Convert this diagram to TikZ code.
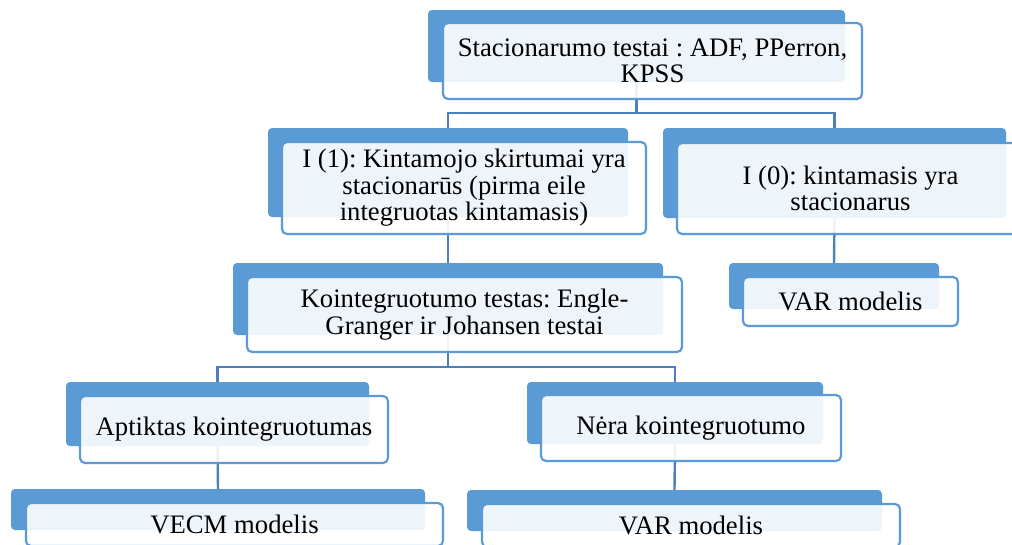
\documentclass[tikz,border=0pt]{standalone}
\usepackage{fontspec}
\setmainfont{Liberation Serif}
\frenchspacing
\definecolor{blu}{HTML}{5B9BD5}
\definecolor{conn}{HTML}{4C80BA}
\begin{document}
\begin{tikzpicture}[x=1pt,y=-1pt,
  backr/.style={fill=blu, draw=none, rounded corners=4pt, inner sep=0pt},
  frontr/.style={draw=blu, line width=2.2pt, fill=white, fill opacity=0.9, text opacity=1,
     rounded corners=5pt, inner sep=0pt, align=center,
     font=\fontsize{26.7}{26.5}\selectfont\frenchspacing},
  link/.style={draw=conn, line width=2.4pt}]
\clip (0,0) rectangle (1012,544);
\fill[white] (0,0) rectangle (1012,544);
% back rectangles
\node[backr, minimum width=417pt, minimum height=72pt] (topb) at (636.5,46) {};
\node[backr, minimum width=360pt, minimum height=89pt] (i1b) at (448,172.5) {};
\node[backr, minimum width=343pt, minimum height=90pt] (i0b) at (834.5,173) {};
\node[backr, minimum width=430pt, minimum height=72pt] (koib) at (448,299) {};
\node[backr, minimum width=210pt, minimum height=46pt] (varrb) at (834,286) {};
\node[backr, minimum width=303pt, minimum height=64pt] (aptb) at (217.5,414) {};
\node[backr, minimum width=296pt, minimum height=62pt] (nerab) at (675,413) {};
\node[backr, minimum width=414pt, minimum height=41pt] (vecmb) at (218,509.5) {};
\node[backr, minimum width=415pt, minimum height=41pt] (varbb) at (674.5,510.5) {};
% connectors
\coordinate (j1) at (636.5,113);
\coordinate (j2) at (448,367);
\draw[link] (topb.south) -- (j1) -| (i1b.north);
\draw[link] (j1) -| (i0b.north);
\draw[link] (i1b.south) -- (koib.north);
\draw[link] (i0b.south) -- (varrb.north);
\draw[link] (koib.south) -- (j2) -| (aptb.north);
\draw[link] (j2) -| (nerab.north);
\draw[link] (aptb.south) -- (vecmb.north);
\draw[link] (nerab.south) -- (varbb.north);
% front boxes
\node[frontr, minimum width=419pt, minimum height=76pt] (topf) at (652.5,61)
  {Stacionarumo testai : ADF, PPerron,\\KPSS};
\node[frontr, minimum width=364pt, minimum height=92pt] (i1f) at (464,188)
  {I (1): Kintamojo skirtumai yra\\stacionarūs (pirma eile\\integruotas kintamasis)};
\node[frontr, minimum width=347pt, minimum height=91pt] (i0f) at (850.5,188.5)
  {I (0): kintamasis yra\\stacionarus};
\node[frontr, minimum width=435pt, minimum height=75pt] (koif) at (464.5,314.5)
  {Kointegruotumo testas: Engle-\\Granger ir Johansen testai};
\node[frontr, minimum width=215pt, minimum height=49pt] (varrf) at (850.5,301.5)
  {VAR modelis};
\node[frontr, minimum width=308pt, minimum height=67pt] (aptf) at (234,429.5)
  {Aptiktas kointegruotumas};
\node[frontr, minimum width=300pt, minimum height=66pt] (neraf) at (691,428)
  {Nėra kointegruotumo};
\node[frontr, minimum width=417pt, minimum height=43pt] (vecmf) at (234.5,524.5)
  {VECM modelis};
\node[frontr, minimum width=418pt, minimum height=43pt] (varbf) at (691,525.5)
  {VAR modelis};
\end{tikzpicture}
\end{document}
